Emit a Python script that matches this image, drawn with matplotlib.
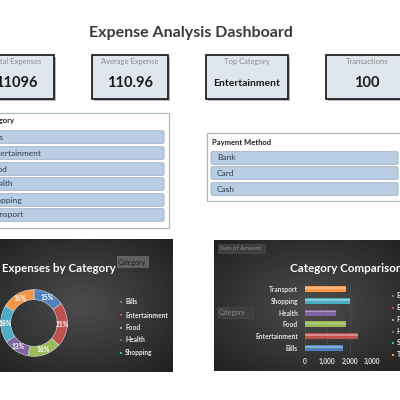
import numpy as np
import matplotlib
matplotlib.use('Agg')
import matplotlib.pyplot as plt
from matplotlib.patches import Rectangle, FancyBboxPatch

plt.rcParams['font.family'] = ['Lato', 'DejaVu Sans']

# data
categories = ['Bills', 'Entertainment', 'Food', 'Health', 'Shopping', 'Transport']
amounts = [1680, 2370, 1820, 1390, 2010, 1826]
payment_methods = ['Bank', 'Card', 'Cash']
transactions = 100
colors = ['#4f81bd', '#c0504d', '#9bbb59', '#8064a2', '#4bacc6', '#f79646']
kpi_labels = ['Total Expenses', 'Average Expense', 'Top Category', 'Transactions']

total = sum(amounts)
kpi_values = [f'{total}', f'{total / transactions:.2f}',
              categories[int(np.argmax(amounts))], f'{transactions}']

fig = plt.figure(figsize=(4, 4), dpi=100)
ax = fig.add_axes([0, 0, 1, 1])
ax.set_xlim(0, 400)
ax.set_ylim(400, 0)
ax.axis('off')

ax.text(191, 33, 'Expense Analysis Dashboard', ha='center', va='center',
        fontsize=11.5, fontweight='bold', color='#3a3a3a')

# KPI cards
card_x = [(-22, 76), (92, 76), (206, 82), (326, 82)]
for (x0, w), lab, val in zip(card_x, kpi_labels, kpi_values):
    ax.add_patch(Rectangle((x0 + 2, 57), w, 44, fc='#b8b8b8', ec='none', zorder=1))
    ax.add_patch(Rectangle((x0, 55), w, 44, fc='#dfe6ee', ec='#111111', lw=1.2, zorder=2))
    cx = x0 + w / 2
    ax.text(cx, 61.5, lab, ha='center', va='center', fontsize=5.5, color='#8c8c8c', zorder=3)
    fs = 7.5 if len(val) > 8 else 10.5
    ax.text(cx, 83, val, ha='center', va='center', fontsize=fs, fontweight='bold',
            color='#1a1a1a', zorder=3)

# slicers
def slicer(x0, x1, y0, y1, title, items, row_x0, row_x1, row_y, text_x, head_x, head_y):
    ax.add_patch(Rectangle((x0, y0), x1 - x0, y1 - y0, fc='white', ec='#a9b8bf', lw=0.9))
    ax.text(head_x, head_y, title, ha='left', va='center', fontsize=5.5,
            fontweight='bold', color='#222222')
    for it, yc in zip(items, row_y):
        ax.add_patch(FancyBboxPatch((row_x0, yc - 6.3), row_x1 - row_x0, 12.6,
                                    boxstyle='round,pad=0,rounding_size=1.5',
                                    fc='#b9cde5', ec='#98aec6', lw=0.6))
        ax.text(text_x, yc, it, ha='left', va='center', fontsize=6, color='#333b45')

slicer(-30, 169, 113, 228, 'Category', categories, -25, 164,
       [137, 153, 169, 184, 200, 215], -12, -16, 121)
slicer(207, 420, 133, 201, 'Payment Method', payment_methods, 211, 398,
       [158, 173, 189], 217, 212, 142)

# dark panels with radial gradient
def dark_panel(x0, x1, y0, y1):
    gx, gy = np.meshgrid(np.linspace(-1, 1, 200), np.linspace(-1, 1, 150))
    r = np.clip(np.sqrt(gx ** 2 + gy ** 2) / 1.4, 0, 1)
    img = 0.30 - 0.17 * r
    ax.imshow(img, cmap='gray', vmin=0, vmax=1, extent=(x0, x1, y1, y0),
              aspect='auto', zorder=0, interpolation='bilinear')

dark_panel(-10, 173, 239, 372)
dark_panel(214, 410, 240, 371)
ax.set_xlim(0, 400)
ax.set_ylim(400, 0)

# left panel texts / legend
ax.text(2, 268, 'Expenses by Category', ha='left', va='center', fontsize=8.3,
        fontweight='bold', color='white')
ax.add_patch(Rectangle((117, 256), 32, 12, fc='#6e6e6e', ec='none', alpha=0.8))
ax.text(118, 262, 'Category', ha='left', va='center', fontsize=5, color='#1e1e1e')
for cat, c, yy in zip(categories[:5], colors[:5], [302, 315, 328, 340, 353]):
    ax.add_patch(Rectangle((120, yy - 1.2), 2.4, 2.4, fc=c, ec='none'))
    ax.text(125, yy, cat, ha='left', va='center', fontsize=4.8, fontweight='bold',
            color='#e6e6e6')

# right panel texts / legend
ax.add_patch(Rectangle((218, 244), 47, 9, fc='#3e3e3e', ec='#4a4a4a', lw=0.5))
ax.text(220, 248.5, 'Sum of Amount', ha='left', va='center', fontsize=4.3, color='#8a8a8a')
ax.add_patch(Rectangle((217, 307), 36, 11, fc='#3e3e3e', ec='#4a4a4a', lw=0.5))
ax.text(219, 312.5, 'Category', ha='left', va='center', fontsize=4.8, color='#8a8a8a')
ax.text(290, 268, 'Category Comparison', ha='left', va='center', fontsize=8.3,
        fontweight='bold', color='white')
for cat, c, yy in zip(categories, colors, [296, 308, 320, 332, 343, 355]):
    ax.add_patch(Rectangle((392, yy - 1.2), 2.4, 2.4, fc=c, ec='none'))
    ax.text(396.5, yy, cat, ha='left', va='center', fontsize=5, fontweight='bold',
            color='#e6e6e6')

# donut chart
dax = fig.add_axes([0.0, 1 - 357 / 400, 68 / 400, 68 / 400])
wedges, _ = dax.pie(amounts, colors=colors, startangle=90, counterclock=False,
                    radius=1, wedgeprops=dict(width=0.3, edgecolor='#dddddd', linewidth=0.4))
start = 90
for a in amounts:
    frac = a / total
    mid = np.deg2rad(start - frac * 180)
    dax.text(0.85 * np.cos(mid), 0.85 * np.sin(mid), f'{frac * 100:.0f}%',
             ha='center', va='center', fontsize=4.8, fontweight='bold', color='white')
    start -= frac * 360
dax.set_xlim(-1.02, 1.02)
dax.set_ylim(-1.02, 1.02)
dax.axis('off')

# bar chart
bax = fig.add_axes([305 / 400, 1 - 354 / 400, 67 / 400, 71 / 400])
bax.patch.set_alpha(0)
ypos = np.arange(len(categories))
bax.barh(ypos, amounts, height=0.5, color=colors, edgecolor='none', zorder=3)
bax.barh(ypos + 0.08, amounts, height=0.14, color='white', alpha=0.35, zorder=4)
bax.set_xlim(0, 3000)
bax.set_ylim(-0.5, len(categories) - 0.5)
bax.set_yticks(ypos)
bax.set_yticklabels(categories)
bax.set_xticks([0, 1000, 2000, 3000])
bax.set_xticklabels(['0', '1,000', '2,000', '3,000'])
bax.tick_params(axis='both', length=0, labelsize=4.8, labelcolor='#e0e0e0')
bax.tick_params(axis='y', pad=5)
bax.tick_params(axis='x', pad=3)
for lab in bax.get_yticklabels() + bax.get_xticklabels():
    lab.set_fontweight('bold')
bax.grid(axis='x', color='#555555', lw=0.4, zorder=0)
for s in bax.spines.values():
    s.set_visible(False)

fig.savefig('out.png', dpi=100, facecolor='white')
